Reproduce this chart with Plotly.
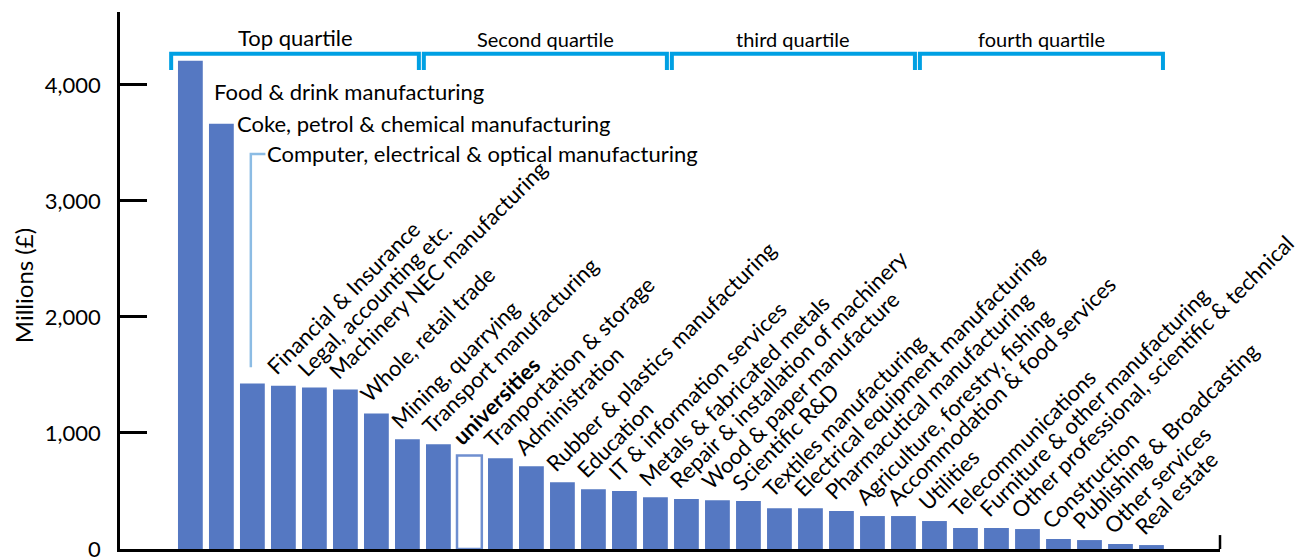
import plotly.graph_objects as go

categories = [
    "Food & drink manufacturing",
    "Coke, petrol & chemical manufacturing",
    "Computer, electrical & optical manufacturing",
    "Financial & Insurance",
    "Legal, accounting etc.",
    "Machinery NEC manufacturing",
    "Whole, retail trade",
    "Mining, quarrying",
    "Transport manufacturing",
    "universities",
    "Tranportation & storage",
    "Administration",
    "Rubber & plastics manufacturing",
    "Education",
    "IT & information services",
    "Metals & fabricated metals",
    "Repair & installation of machinery",
    "Wood & paper manufacture",
    "Scientific R&D",
    "Textiles manufacturing",
    "Electrical equipment manufacturing",
    "Pharmacutical manufacturing",
    "Agriculture, forestry, fishing",
    "Accommodation & food services",
    "Utilities",
    "Telecommunications",
    "Furniture & other manufacturing",
    "Other professional, scientific & technical",
    "Construction",
    "Publishing & Broadcasting",
    "Other services",
    "Real estate",
]
values = [4209, 3666, 1426, 1408, 1393, 1375, 1169, 946, 903, 805, 782, 713,
          576, 516, 499, 447, 430, 421, 413, 352, 352, 327, 284, 284, 241,
          181, 181, 172, 86, 77, 43, 34]
highlight = "universities"
quartile_labels = ["Top quartile", "Second quartile", "third quartile", "fourth quartile"]
y_ticks = [0, 1000, 2000, 3000, 4000]

FONT = "Lato"
BAR = "#5578C2"
BRACKET = "#00A0E3"
LEADER = "#8CBCE4"

idx = list(range(len(categories)))
fill = ["white" if c == highlight else BAR for c in categories]
line_col = ["#6F8FD0" if c == highlight else BAR for c in categories]
line_w = [2.5 if c == highlight else 0 for c in categories]

fig = go.Figure(go.Bar(
    x=idx, y=values, width=0.8,
    marker=dict(color=fill, line=dict(color=line_col, width=line_w)),
    hoverinfo="skip",
))

annotations = []
shapes = []
# horizontal labels for the three tallest bars
annotations.append(dict(x=0, y=values[0], xref="x", yref="y", text=categories[0],
                        showarrow=False, xanchor="left", yanchor="middle",
                        xshift=22, yshift=-31, font=dict(family=FONT, size=22, color="black")))
annotations.append(dict(x=1, y=values[1], xref="x", yref="y", text=categories[1],
                        showarrow=False, xanchor="left", yanchor="middle",
                        xshift=14, yshift=0, font=dict(family=FONT, size=22, color="black")))
LEADER_Y = 3405
annotations.append(dict(x=2.42, y=LEADER_Y, xref="x", yref="y", text=categories[2],
                        showarrow=False, xanchor="left", yanchor="middle",
                        xshift=0, font=dict(family=FONT, size=22, color="black")))
shapes.append(dict(type="path", xref="x", yref="y",
                   path=f"M 1.95 {values[2] + 140} L 1.95 {LEADER_Y} L 2.42 {LEADER_Y}",
                   line=dict(color=LEADER, width=2.5)))

# rotated labels
for i in idx[3:]:
    txt = f"<b>{categories[i]}</b>" if categories[i] == highlight else categories[i]
    annotations.append(dict(x=i, y=values[i], xref="x", yref="y", text=txt,
                            showarrow=False, textangle=-45,
                            xanchor="left", yanchor="bottom",
                            xshift=-25, yshift=3,
                            font=dict(family=FONT, size=22, color="black")))

# quartile brackets
n_q = len(categories) // len(quartile_labels)
B_TOP, B_BOT = 4270, 4130
for q, lab in enumerate(quartile_labels):
    x0 = q * n_q - 0.62 if q == 0 else q * n_q - 0.5 + 0.03
    x1 = q * n_q + n_q - 0.5 - 0.13
    shapes.append(dict(type="path", xref="x", yref="y",
                       path=f"M {x0} {B_BOT} L {x0} {B_TOP} L {x1} {B_TOP} L {x1} {B_BOT}",
                       line=dict(color=BRACKET, width=4)))
    annotations.append(dict(x=(x0 + x1) / 2, y=B_TOP, xref="x", yref="y", text=lab,
                            showarrow=False, xanchor="center", yanchor="bottom", yshift=1,
                            font=dict(family=FONT, size=22 if q == 0 else 20, color="black")))

# right-end tick on the x axis
shapes.append(dict(type="line", xref="paper", yref="y", x0=1, x1=1, y0=0, y1=120,
                   line=dict(color="black", width=2.5)))

annotations.append(dict(x=-0.087, y=0.49, xref="paper", yref="paper", text="Millions (£)",
                        showarrow=False, textangle=-90, xanchor="center", yanchor="middle",
                        font=dict(family=FONT, size=24, color="black")))

# the page body adds an 8px offset; size the figure to fit the 1313x558 window
fig.update_layout(
    width=1305, height=550,
    margin=dict(l=112, r=93, t=4, b=9, autoexpand=False),
    paper_bgcolor="white", plot_bgcolor="white",
    showlegend=False,
    shapes=shapes, annotations=annotations,
    xaxis=dict(range=[-2.27, 33.21], showticklabels=False, showgrid=False, zeroline=False,
               showline=True, linecolor="black", linewidth=2.5, ticks="", automargin=False),
    yaxis=dict(range=[0, 4629], tickvals=y_ticks, tickformat=",", showgrid=False,
               zeroline=False, showline=True, linecolor="black", linewidth=2.5,
               ticks="inside", ticklen=27, tickwidth=2.5, tickcolor="black",
               ticklabelstandoff=12, ticklabeloverflow="allow", automargin=False,
               tickfont=dict(family=FONT, size=22, color="black")),
)

fig.write_html("out.html")
